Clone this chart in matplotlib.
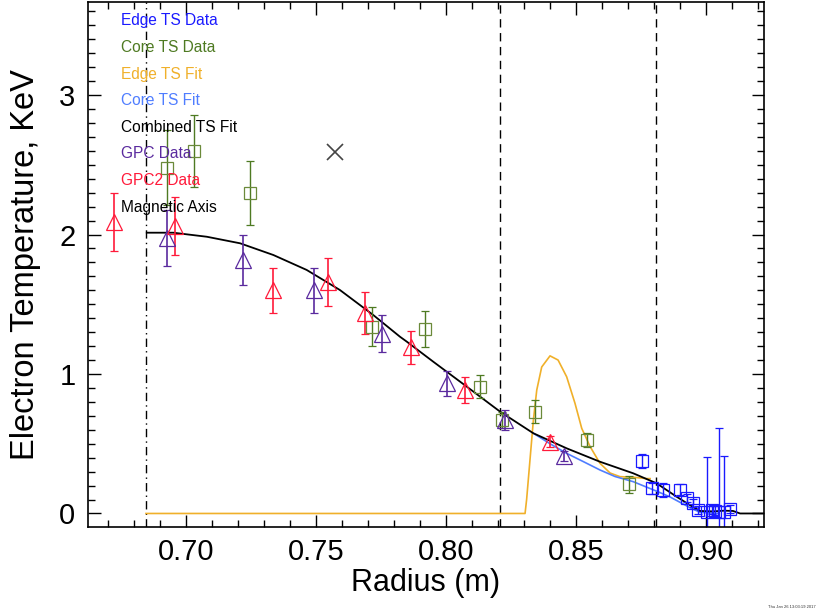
import matplotlib.pyplot as plt

plt.rcParams['font.family'] = ['Liberation Sans', 'DejaVu Sans']

# Edge TS data (blue squares)
edge_r = [0.8753, 0.8791, 0.8833, 0.8900, 0.8926, 0.8950, 0.8970, 0.9003, 0.9022, 0.9035, 0.9051, 0.9070, 0.9092]
edge_te = [0.378, 0.18, 0.17, 0.17, 0.11, 0.075, 0.025, 0.013, 0.025, 0.02, 0.013, 0.01, 0.03]
edge_err = [0.05, 0.04, 0.05, 0.04, 0.03, 0.03, 0.03, 0.39, 0.03, 0.03, 0.60, 0.40, 0.03]

# Core TS data (green squares)
core_r = [0.6926, 0.7031, 0.7246, 0.7714, 0.7919, 0.8131, 0.8214, 0.8342, 0.8541, 0.8704]
core_te = [2.48, 2.60, 2.30, 1.34, 1.32, 0.91, 0.67, 0.73, 0.527, 0.21]
core_err = [0.27, 0.26, 0.23, 0.14, 0.13, 0.08, 0.06, 0.08, 0.05, 0.06]

# Edge TS fit
efit_r = [0.6846, 0.8304, 0.8310, 0.8336, 0.8349, 0.8368, 0.8400, 0.8431, 0.8464, 0.8496,
          0.8522, 0.8554, 0.8592, 0.8631, 0.8669, 0.8719, 0.8772, 0.8785]
efit_te = [0.0, 0.0, 0.10, 0.67, 0.885, 1.05, 1.13, 1.10, 0.98, 0.79,
           0.61, 0.48, 0.36, 0.29, 0.264, 0.26, 0.25, 0.25]

# Core TS fit
cfit_r = [0.8336, 0.8400, 0.8464, 0.8530, 0.8592, 0.8650, 0.8720, 0.8770, 0.8810, 0.8860, 0.8900, 0.8940, 0.8977, 0.9050]
cfit_te = [0.575, 0.50, 0.431, 0.37, 0.312, 0.265, 0.228, 0.19, 0.16, 0.12, 0.08, 0.04, 0.008, 0.0]

# Combined TS fit
comb_r = [0.6849, 0.6951, 0.7080, 0.7208, 0.7336, 0.7464, 0.7592, 0.7720, 0.7823, 0.7849, 0.7951,
          0.8080, 0.8208, 0.8336, 0.8464, 0.8592, 0.8720, 0.8810, 0.8887, 0.8938, 0.8977,
          0.9027, 0.9070, 0.9104, 0.9131, 0.9223]
comb_te = [2.013, 2.013, 1.984, 1.937, 1.853, 1.746, 1.602, 1.423, 1.267, 1.232, 1.088,
           0.909, 0.730, 0.575, 0.467, 0.371, 0.288, 0.216, 0.12, 0.06, 0.018,
           0.015, 0.02, 0.018, 0.0, 0.0]

# GPC data (purple triangles)
gpc_r = [0.6926, 0.7218, 0.7493, 0.7754, 0.8003, 0.8227, 0.8454]
gpc_te = [1.975, 1.82, 1.60, 1.29, 0.935, 0.67, 0.41]
gpc_err = [0.20, 0.18, 0.16, 0.13, 0.09, 0.07, 0.035]

# GPC2 data (red triangles)
gpc2_r = [0.6723, 0.6958, 0.7333, 0.7546, 0.7688, 0.7864, 0.8073, 0.8400]
gpc2_te = [2.09, 2.06, 1.60, 1.66, 1.44, 1.19, 0.885, 0.515]
gpc2_err = [0.21, 0.21, 0.16, 0.17, 0.15, 0.12, 0.09, 0.04]

mag_axis = 0.6846
sep_lines = [0.8208, 0.8808]
cross_r, cross_te = 0.7573, 2.59

legend_items = [("Edge TS Data", "#1a1aff"), ("Core TS Data", "#4e7a22"), ("Edge TS Fit", "#f0b02a"),
                ("Core TS Fit", "#4f7dff"), ("Combined TS Fit", "black"), ("GPC Data", "#5a2a9e"),
                ("GPC2 Data", "#ff1a3a"), ("Magnetic Axis", "black")]

fig = plt.figure(figsize=(8.37, 6.13), dpi=100)
ax = fig.add_axes([88 / 837, 1 - 527 / 613, 676 / 837, 525 / 613])

ax.axvline(mag_axis, color='black', lw=1, ls=(0, (6, 3, 1, 3)))
for s in sep_lines:
    ax.axvline(s, color='black', lw=1, ls=(0, (6, 4)))

ax.plot(efit_r, efit_te, color="#f0b02a", lw=1.2)
ax.plot(cfit_r, cfit_te, color="#4f7dff", lw=1.2)
ax.plot(comb_r, comb_te, color="black", lw=1.3)

ax.errorbar(core_r, core_te, yerr=core_err, fmt='s', ms=9, mfc='none', mec="#6b8a3a",
            ecolor="#4e7a22", elinewidth=1, capsize=3, mew=0.9)
ax.errorbar(gpc_r, gpc_te, yerr=gpc_err, fmt='^', ms=11, mfc='none', mec="#5a2a9e",
            ecolor="#5a2a9e", elinewidth=1.2, capsize=3, mew=0.9)
ax.errorbar(gpc2_r, gpc2_te, yerr=gpc2_err, fmt='^', ms=11, mfc='none', mec="#ff1a3a",
            ecolor="#ff1a3a", elinewidth=1.2, capsize=3, mew=0.9)
ax.errorbar(edge_r, edge_te, yerr=edge_err, fmt='s', ms=9, mfc='none', mec="#1a1aff",
            ecolor="#1a1aff", elinewidth=1, capsize=3, mew=0.9)
ax.plot(cross_r, cross_te, 'x', color="#444444", ms=12, mew=1.2)

# coloured text acts as the legend
for i, (label, c) in enumerate(legend_items):
    fig.text(121 / 837, 1 - (21 + i * 26.6) / 613, label, color=c, fontsize=11.2, va='center', ha='left')

ax.set_xlim(0.6623, 0.9223)
ax.set_ylim(-0.097, 3.667)
ax.set_xticks([0.70, 0.75, 0.80, 0.85, 0.90])
ax.set_xticklabels(["0.70", "0.75", "0.80", "0.85", "0.90"])
ax.set_xticks([0.67, 0.68, 0.69, 0.71, 0.72, 0.73, 0.74, 0.76, 0.77, 0.78, 0.79, 0.81, 0.82, 0.83,
               0.84, 0.86, 0.87, 0.88, 0.89, 0.91, 0.92], minor=True)
ax.set_yticks([0, 1, 2, 3])
ax.set_yticks([v / 10 for v in range(1, 37) if v % 10 != 0], minor=True)
ax.tick_params(which='both', direction='in', top=True, right=True, labelsize=21, width=1)
ax.tick_params(which='major', length=9)
ax.tick_params(which='minor', length=5)
ax.tick_params(axis='x', pad=8)
ax.tick_params(axis='y', pad=9)
for sp in ax.spines.values():
    sp.set_linewidth(1.2)

ax.set_xlabel("Radius (m)", fontsize=22, labelpad=1)
ax.set_ylabel("Electron Temperature, KeV", fontsize=23.5, labelpad=13)

fig.text(768 / 837, 1 - 607 / 613, "Thu Jan 26 13:03:19 2017", fontsize=3, color='#333333', va='center')

fig.savefig("out.png", dpi=100)
